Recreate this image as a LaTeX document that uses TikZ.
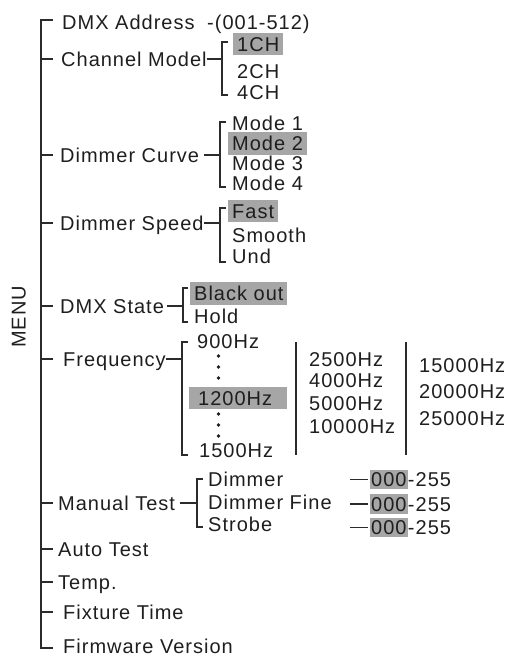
\documentclass[tikz,border=0pt]{standalone}
\usepackage{fontspec}
\setmainfont{Liberation Sans}[LetterSpace=5]
\usepackage{xcolor}
\usepackage{tikz}
\usetikzlibrary{positioning}

\definecolor{menuink}{HTML}{1E1E1E}
\definecolor{menuline}{HTML}{2B2B2B}
\definecolor{menugray}{HTML}{A6A6A6}

\tikzset{
  item/.style={anchor=west, inner sep=0pt, text height=14.3pt, text depth=0pt,
    text=menuink, font=\fontsize{20}{24}\selectfont},
  opt/.style={item, inner xsep=4pt, inner ysep=4pt},
  pick/.style={opt, fill=menugray},
  wire/.style={draw=menuline, line width=1.7pt},
}

\begin{document}
\begin{tikzpicture}[x=1pt, y=-1pt]
  \useasboundingbox (0,0) rectangle (510,657);
  \node[item, rotate=90, anchor=center] (Menu) at (18.5,317) {MENU};

  % Main menu entries
  \node[item] (DMX-Address) at (62,22) {DMX Address};
  \node[item] (DMX-Range) at (207,22) {-(001-512)};
  \node[item] (Channel-Model) at (61,59) {Channel Model};
  \node[item] (Dimmer-Curve) at (60,155) {Dimmer Curve};
  \node[item] (Dimmer-Speed) at (60,223) {Dimmer Speed};
  \node[item] (DMX-State) at (60,306) {DMX State};
  \node[item] (Frequency) at (63,359) {Frequency};
  \node[item] (Manual-Test) at (58,503) {Manual Test};
  \node[item] (Auto-Test) at (58,549) {Auto Test};
  \node[item] (Temp) at (58,582) {Temp.};
  \node[item] (Fixture-Time) at (63,612) {Fixture Time};
  \node[item] (Firmware) at (63,646) {Firmware Version};

  \coordinate (Spine-Top) at (41,20);
  \coordinate (Spine-Bottom) at (41,648);
  \draw[wire] ([xshift=12pt]Spine-Top) -- (Spine-Top) -- (Spine-Bottom) -- ([xshift=12pt]Spine-Bottom);
  \foreach \entry in {Channel-Model, Dimmer-Curve, Dimmer-Speed, DMX-State, Frequency,
      Manual-Test, Auto-Test, Temp, Fixture-Time}
    \draw[wire] (Spine-Top |- \entry.west) -- ++(12,0);

  % Channel Model
  \node[pick] (Channel-1) at (233,44) {1CH};
  \node[opt] (Channel-2) at (233,71) {2CH};
  \node[opt] (Channel-4) at (233,92) {4CH};
  \coordinate (Channel-Top) at (222,42);
  \coordinate (Channel-Bottom) at (222,95);
  \draw[wire] ([xshift=6pt]Channel-Top) -- (Channel-Top) -- (Channel-Bottom) -- ([xshift=6pt]Channel-Bottom);
  \draw[wire] (Channel-Model.east) -- (Channel-Model.east -| Channel-Top);

  % Dimmer Curve
  \node[opt] (Mode-1) at (228,123.5) {Mode 1};
  \node[pick] (Mode-2) at (228,143.5) {Mode 2};
  \node[opt] (Mode-3) at (228,163.5) {Mode 3};
  \node[opt] (Mode-4) at (228,183.5) {Mode 4};
  \coordinate (Curve-Top) at (220,122);
  \coordinate (Curve-Bottom) at (220,187);
  \draw[wire] ([xshift=6pt]Curve-Top) -- (Curve-Top) -- (Curve-Bottom) -- ([xshift=6pt]Curve-Bottom);
  \draw[wire] ([xshift=5pt]Dimmer-Curve.east) -- (Dimmer-Curve.east -| Curve-Top);

  % Dimmer Speed
  \node[pick] (Speed-Fast) at (228,211) {Fast};
  \node[opt] (Speed-Smooth) at (228,235) {Smooth};
  \node[opt] (Speed-Und) at (228,256.5) {Und};
  \coordinate (Speed-Top) at (220,208);
  \coordinate (Speed-Bottom) at (220,262);
  \draw[wire] ([xshift=6pt]Speed-Top) -- (Speed-Top) -- (Speed-Bottom) -- ([xshift=6pt]Speed-Bottom);
  \draw[wire] (Dimmer-Speed.east) -- (Dimmer-Speed.east -| Speed-Top);

  % DMX State
  \node[pick] (State-Black) at (190,293.5) {Black out};
  \node[opt] (State-Hold) at (190,316.5) {Hold};
  \coordinate (State-Top) at (183,288);
  \coordinate (State-Bottom) at (183,322);
  \draw[wire] ([xshift=5pt]State-Top) -- (State-Top) -- (State-Bottom) -- ([xshift=5pt]State-Bottom);
  \draw[wire] ([xshift=3pt]DMX-State.east) -- (DMX-State.east -| State-Top);

  % Frequency
  \node[item] (Freq-900) at (197,341.5) {900Hz};
  \node[pick, text width=80pt, inner xsep=9pt, align=left] (Freq-1200) at (189,398) {1200Hz};
  \node[item] (Freq-1500) at (199,450) {1500Hz};
  \foreach \y in {356,367,378,414,425,436}
    \fill[menuink] (218.5,\y) circle (1.9pt);
  \coordinate (Freq-Top) at (182,342);
  \coordinate (Freq-Bottom) at (182,455);
  \draw[wire] ([xshift=6pt]Freq-Top) -- (Freq-Top) -- (Freq-Bottom) -- ([xshift=6pt]Freq-Bottom);
  \draw[wire] (Frequency.east) -- (Frequency.east -| Freq-Top);
  \draw[wire] (296,342) -- (296,455);
  \node[item] (Freq-2500) at (309,359) {2500Hz};
  \node[item] (Freq-4000) at (309,380.5) {4000Hz};
  \node[item] (Freq-5000) at (309,403) {5000Hz};
  \node[item] (Freq-10000) at (309,426.5) {10000Hz};
  \draw[wire] (406,342) -- (406,455);
  \node[item] (Freq-15000) at (419,365.5) {15000Hz};
  \node[item] (Freq-20000) at (419,391) {20000Hz};
  \node[item] (Freq-25000) at (419,418) {25000Hz};

  % Manual Test
  \node[item] (Test-Dimmer) at (208,479.5) {Dimmer};
  \node[item] (Test-Fine) at (208,502) {Dimmer Fine};
  \node[item] (Test-Strobe) at (208,524.5) {Strobe};
  \coordinate (Test-Top) at (197,479);
  \coordinate (Test-Bottom) at (197,527);
  \draw[wire] ([xshift=6pt]Test-Top) -- (Test-Top) -- (Test-Bottom) -- ([xshift=6pt]Test-Bottom);
  \draw[wire] ([xshift=5pt]Manual-Test.east) -- (Manual-Test.east -| Test-Top);
  \foreach \name/\y in {Dimmer/479.5, Fine/504, Strobe/527.5} {
    \node[pick, inner xsep=1pt, inner ysep=2.4pt] (\name-Low) at (370,\y) {000};
    \node[item, right=0pt of \name-Low] (\name-High) {-255};
    \draw[wire] ([xshift=-2pt]\name-Low.west) -- ++(-18,0);
  }
\end{tikzpicture}
\end{document}
